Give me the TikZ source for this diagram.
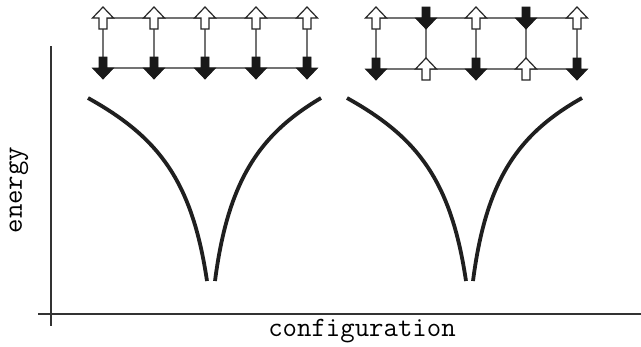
\documentclass[tikz,border=0pt]{standalone}
\usepackage{fontspec}
\tikzset{
  uparr/.pic={\path[pic actions] (0,-11) -- (10.5,0) -- (4,0) -- (4,11) -- (-4,11) -- (-4,0) -- (-10.5,0) -- cycle;},
  downarr/.pic={\path[pic actions] (0,11) -- (10.5,0) -- (4,0) -- (4,-11) -- (-4,-11) -- (-4,0) -- (-10.5,0) -- cycle;},
  hollowarr/.style={draw=black!85, fill=white, line width=1.2pt, line join=miter},
  fullarr/.style={draw=black!90, fill=black!90, line width=0.8pt},
  latline/.style={draw=black!55, line width=1.2pt},
  axisline/.style={draw=black!80, line width=1.4pt},
  cusp/.style={draw=black!88, line width=3.8pt},
  lbl/.style={font=\fontsize{28}{32}\selectfont\ttfamily, inner sep=0pt}
}
\begin{document}
\begin{tikzpicture}[x=1pt,y=-1pt]
\useasboundingbox (0,0) rectangle (641,346);
% axes
\coordinate (ytop) at (51,46);
\coordinate (ybot) at (51,326);
\coordinate (xl) at (38,314);
\coordinate (xr) at (641,314);
\draw[axisline] (ytop) -- (ybot);
\draw[axisline] (xl) -- (xr);
\node[lbl, rotate=90] (energy) at (19,190) {energy};
\node[lbl] (config) at (362,331) {configuration};
% left lattice
\foreach \i/\x in {1/103,2/154,3/205,4/256,5/307}{
  \coordinate (a\i) at (\x,18);
  \coordinate (b\i) at (\x,68);
}
\draw[latline] (a1) -- (a5);
\draw[latline] (b1) -- (b5);
\foreach \i in {1,...,5}{\draw[latline] (a\i) -- (b\i);}
\foreach \i in {1,...,5}{
  \pic[hollowarr] at (a\i) {uparr};
  \pic[fullarr] at (b\i) {downarr};
}
% right lattice
\foreach \i/\x in {1/376,2/426,3/476,4/526,5/577}{
  \coordinate (c\i) at (\x,18);
  \coordinate (d\i) at (\x,69);
}
\draw[latline] (c1) -- (c5);
\draw[latline] (d1) -- (d5);
\foreach \i in {1,...,5}{\draw[latline] (c\i) -- (d\i);}
\foreach \i in {1,3,5}{
  \pic[hollowarr] at (c\i) {uparr};
  \pic[fullarr] at (d\i) {downarr};
}
\foreach \i in {2,4}{
  \pic[fullarr] at (c\i) {downarr};
  \pic[hollowarr] at (d\i) {uparr};
}
% energy cusps
\coordinate (p1) at (88,98);
\coordinate (p2) at (207,281);
\coordinate (p3) at (215,281);
\coordinate (p4) at (321,98);
\draw[cusp] (p1) .. controls (158,137) and (192,180) .. (p2);
\draw[cusp] (p3) .. controls (228,180) and (260,134) .. (p4);
\coordinate (q1) at (347,98);
\coordinate (q2) at (466,281);
\coordinate (q3) at (473,281);
\coordinate (q4) at (582,98);
\draw[cusp] (q1) .. controls (417,137) and (451,180) .. (q2);
\draw[cusp] (q3) .. controls (486,180) and (518,134) .. (q4);
\end{tikzpicture}
\end{document}
